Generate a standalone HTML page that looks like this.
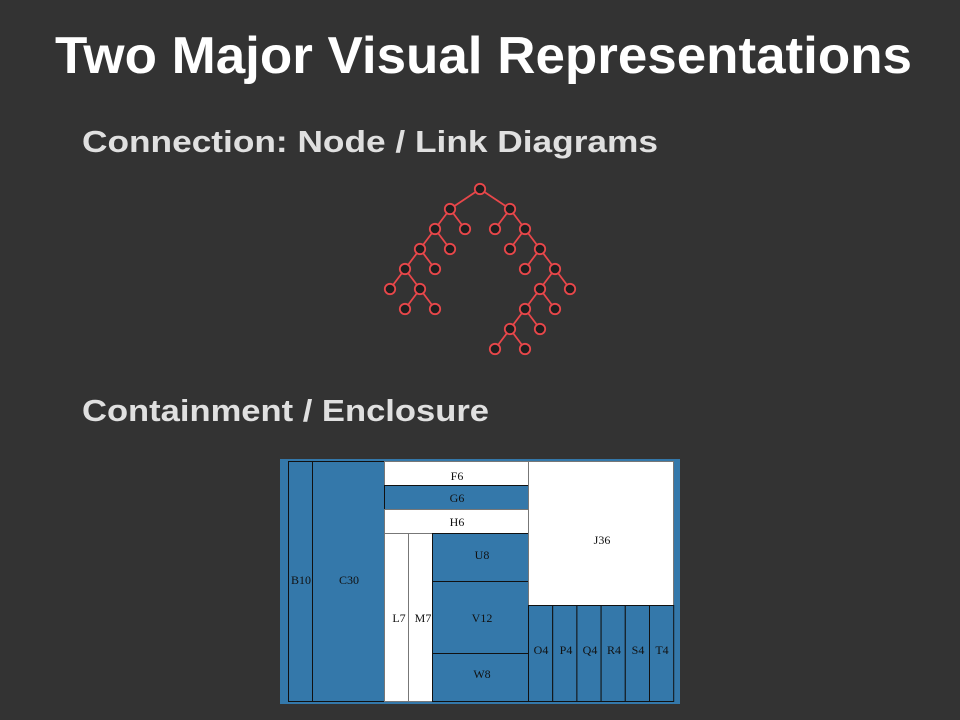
<!DOCTYPE html>
<html><head><meta charset="utf-8"><style>
html,body{margin:0;padding:0;background:#333;}
svg{display:block}
</style></head><body>
<svg width="960" height="720" viewBox="0 0 960 720" xmlns="http://www.w3.org/2000/svg">
<rect width="960" height="720" fill="#333"/>
<text x="55" y="73" font-family="Liberation Sans, sans-serif" font-weight="bold" font-size="52" fill="#fff" textLength="857" lengthAdjust="spacingAndGlyphs">Two Major Visual Representations</text>
<text x="82" y="152" font-family="Liberation Sans, sans-serif" font-weight="bold" font-size="31" fill="#e0e0e0" textLength="576" lengthAdjust="spacingAndGlyphs">Connection: Node / Link Diagrams</text>
<text x="82" y="421" font-family="Liberation Sans, sans-serif" font-weight="bold" font-size="31" fill="#e0e0e0" textLength="407" lengthAdjust="spacingAndGlyphs">Containment / Enclosure</text>
<g stroke="#e8474a" stroke-width="1.8" fill="none">
<path d="M480 189L450 209M480 189L510 209M450 209L435 229M450 209L465 229M510 209L495 229M510 209L525 229M435 229L420 249M435 229L450 249M525 229L510 249M525 229L540 249M420 249L405 269M420 249L435 269M540 249L525 269M540 249L555 269M405 269L390 289M405 269L420 289M555 269L540 289M555 269L570 289M420 289L405 309M420 289L435 309M540 289L525 309M540 289L555 309M525 309L510 329M525 309L540 329M510 329L495 349M510 329L525 349"/>
</g>
<g stroke="#e8474a" stroke-width="1.8" fill="#1f1f1f">
<circle cx="480" cy="189" r="5.2"/><circle cx="450" cy="209" r="5.2"/><circle cx="510" cy="209" r="5.2"/>
<circle cx="435" cy="229" r="5.2"/><circle cx="465" cy="229" r="5.2"/><circle cx="495" cy="229" r="5.2"/><circle cx="525" cy="229" r="5.2"/>
<circle cx="420" cy="249" r="5.2"/><circle cx="450" cy="249" r="5.2"/><circle cx="510" cy="249" r="5.2"/><circle cx="540" cy="249" r="5.2"/>
<circle cx="405" cy="269" r="5.2"/><circle cx="435" cy="269" r="5.2"/><circle cx="525" cy="269" r="5.2"/><circle cx="555" cy="269" r="5.2"/>
<circle cx="390" cy="289" r="5.2"/><circle cx="420" cy="289" r="5.2"/><circle cx="540" cy="289" r="5.2"/><circle cx="570" cy="289" r="5.2"/>
<circle cx="405" cy="309" r="5.2"/><circle cx="435" cy="309" r="5.2"/><circle cx="525" cy="309" r="5.2"/><circle cx="555" cy="309" r="5.2"/>
<circle cx="510" cy="329" r="5.2"/><circle cx="540" cy="329" r="5.2"/>
<circle cx="495" cy="349" r="5.2"/><circle cx="525" cy="349" r="5.2"/>
</g>
<rect x="280" y="459" width="400" height="245" fill="#3478aa"/>
<g stroke="#111" stroke-width="1" fill="#3478aa">
<rect x="288.5" y="461.5" width="24" height="240"/>
<rect x="312.5" y="461.5" width="72" height="240"/>
<rect x="384.5" y="461.5" width="144" height="24" fill="#fff" stroke="#777"/>
<rect x="384.5" y="485.5" width="144" height="24"/>
<rect x="384.5" y="509.5" width="144" height="24" fill="#fff" stroke="#777"/>
<rect x="384.5" y="533.5" width="24" height="168" fill="#fff" stroke="#777"/>
<rect x="408.5" y="533.5" width="24" height="168" fill="#fff" stroke="#777"/>
<rect x="432.5" y="533.5" width="96" height="48"/>
<rect x="432.5" y="581.5" width="96" height="72"/>
<rect x="432.5" y="653.5" width="96" height="48"/>
<rect x="528.5" y="461.5" width="145" height="144" fill="#fff" stroke="#777"/>
<rect x="528.5" y="605.5" width="24.2" height="96"/>
<rect x="552.7" y="605.5" width="24.2" height="96"/>
<rect x="576.9" y="605.5" width="24.2" height="96"/>
<rect x="601.1" y="605.5" width="24.2" height="96"/>
<rect x="625.3" y="605.5" width="24.2" height="96"/>
<rect x="649.5" y="605.5" width="24.2" height="96"/>
</g>
<g font-family="Liberation Serif, serif" font-size="12" fill="#111" text-anchor="middle">
<text x="301" y="584">B10</text><text x="349" y="584">C30</text>
<text x="457" y="480">F6</text><text x="457" y="502">G6</text><text x="457" y="526">H6</text>
<text x="399" y="622">L7</text><text x="423" y="622">M7</text>
<text x="482" y="559">U8</text><text x="482" y="622">V12</text><text x="482" y="678">W8</text>
<text x="602" y="544">J36</text>
<text x="541" y="654">O4</text><text x="566" y="654">P4</text><text x="590" y="654">Q4</text><text x="614" y="654">R4</text><text x="638" y="654">S4</text><text x="662" y="654">T4</text>
</g>
</svg>
</body></html>
